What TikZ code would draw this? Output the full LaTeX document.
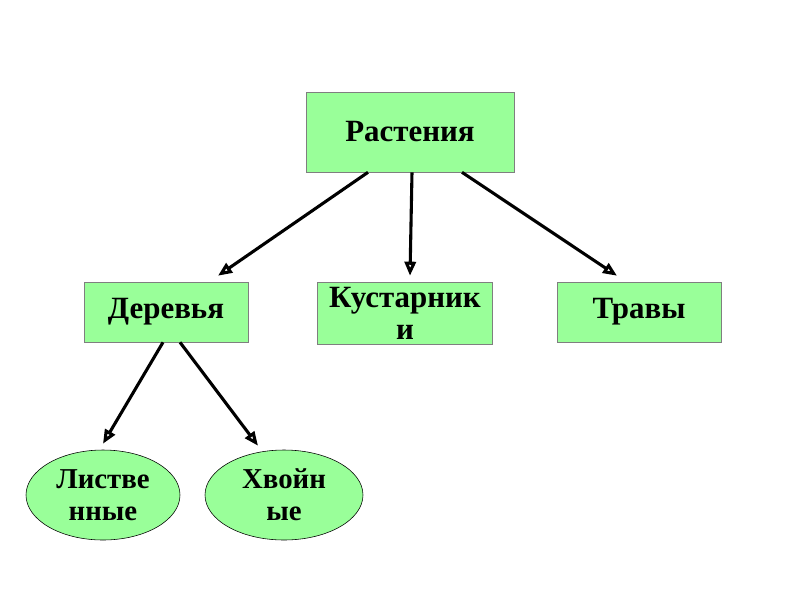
\documentclass[tikz,border=0pt]{standalone}
\usepackage{fontspec}
\setmainfont{Liberation Serif}
\usetikzlibrary{arrows.meta,shapes.geometric}
\definecolor{leafgreen}{HTML}{99FF99}
\definecolor{edgegray}{HTML}{7F7F7F}
\begin{document}
\begin{tikzpicture}[
      >={Triangle[open,length=10pt,width=8pt]},
      box/.style={draw=edgegray, fill=leafgreen, rectangle, inner sep=0pt, align=center},
      oval/.style={draw=black, fill=leafgreen, ellipse, inner sep=0pt, align=center,
        font=\fontsize{20.5}{22.7}\selectfont\bfseries},
      link/.style={->, line width=2.2pt},
      every node/.style={font=\fontsize{22}{22.7}\selectfont\bfseries}
    ]
    \useasboundingbox (0,0) rectangle (20,-15);

    % Корень
    \node[box, minimum width=5.2cm, minimum height=2cm] (plants) at (10.25,-3.3) {Растения};

    % Второй уровень
    \node[box, minimum width=4.1cm, minimum height=1.5cm] (trees) at (4.15,-7.8) {Деревья};
    \node[box, minimum width=4.375cm, minimum height=1.55cm] (shrubs) at (10.125,-7.825) {Кустарник\\и};
    \node[box, minimum width=4.1cm, minimum height=1.5cm] (grass) at (15.975,-7.8) {Травы};

    % Третий уровень
    \node[oval, minimum width=3.85cm, minimum height=2.25cm] (leafy) at (2.575,-12.375) {Листве\\нные};
    \node[oval, minimum width=3.95cm, minimum height=2.25cm] (conifer) at (7.1,-12.375) {Хвойн\\ые};

    % Стрелки
    \draw[link] ([xshift=-1.05cm]plants.south) -- ([xshift=1.3cm,yshift=0.15cm]trees.north);
    \draw[link] ([xshift=0.05cm]plants.south) -- ([xshift=0.125cm,yshift=0.15cm]shrubs.north);
    \draw[link] ([xshift=1.3cm]plants.south) -- ([xshift=-0.55cm,yshift=0.15cm]grass.north);
    \draw[link] ([xshift=-0.075cm]trees.south) -- ([yshift=0.15cm]leafy.north);
    \draw[link] ([xshift=0.35cm]trees.south) -- ([xshift=-0.65cm,yshift=0.1cm]conifer.north);

  \end{tikzpicture}
\end{document}
